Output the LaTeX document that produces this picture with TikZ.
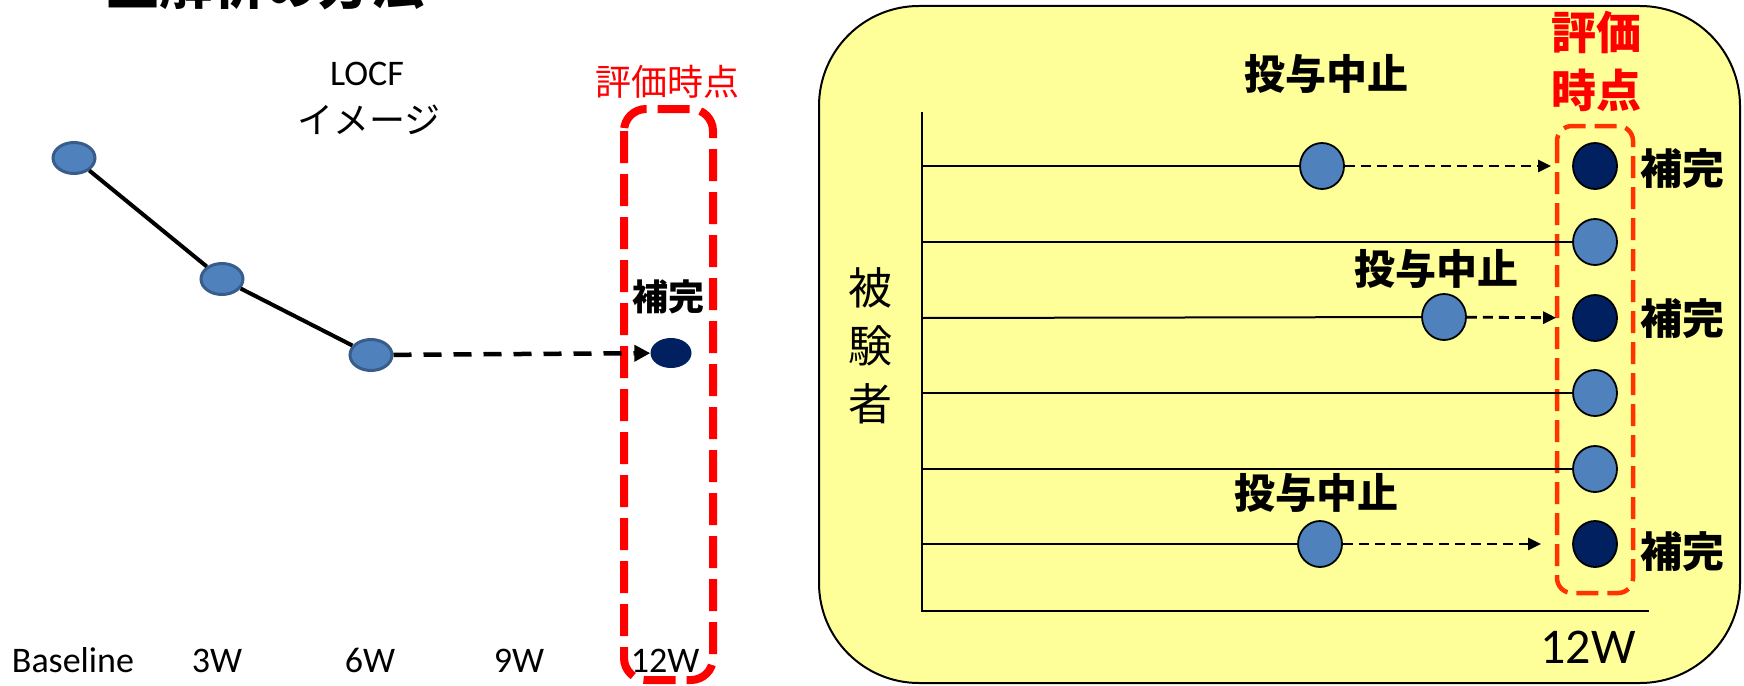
\documentclass[tikz,border=0pt]{standalone}
\usepackage{fontspec}
\setmainfont{Carlito}
\newfontfamily\jp{Noto Sans CJK JP}
\usetikzlibrary{shapes.geometric,arrows.meta}
\definecolor{cblue}{HTML}{4F81BD}
\definecolor{cbord}{HTML}{385D8A}
\definecolor{cnavy}{HTML}{002060}
\definecolor{cyel}{HTML}{FFFF99}
\definecolor{cred}{HTML}{FF0000}
\definecolor{corange}{HTML}{FF3300}
\tikzset{
  lcirc/.style={ellipse,inner sep=0pt,minimum width=42pt,minimum height=31pt,fill=cblue,draw=cbord,line width=3pt},
  ldark/.style={ellipse,inner sep=0pt,minimum width=41pt,minimum height=30pt,fill=cnavy},
  rcirc/.style={ellipse,inner sep=0pt,minimum width=44pt,minimum height=46pt,fill=cblue,draw=black,line width=1.8pt},
  rdark/.style={ellipse,inner sep=0pt,minimum width=44pt,minimum height=46pt,fill=cnavy,draw=black,line width=1.8pt},
  lat/.style={font=\fontsize{36}{40}\selectfont,inner sep=0pt},
  jpl/.style={font=\jp\fontsize{36}{40}\selectfont,inner sep=0pt},
  jpbold/.style={font=\jp\bfseries\fontsize{42}{46}\selectfont,inner sep=0pt},
  rline/.style={line width=2pt},
  rdash/.style={line width=2.8pt,dash pattern=on 10pt off 6pt,-{Triangle[length=13pt,width=12pt]}},
}
\begin{document}
\begin{tikzpicture}[x=1pt,y=-1pt]
\useasboundingbox (0,0) rectangle (1744,685);
% title (cut off at top, as in the reference)
\node[font=\jp\bfseries\fontsize{53}{56}\selectfont,inner sep=0pt,anchor=base] (title) at (265,5) {主解析の方法};
% ---------- left panel ----------
\node[lat,anchor=base] (locf) at (367,85) {LOCF};
\node[jpl] (image) at (369,120) {イメージ};
\node[jpl,text=cred] (evalL) at (667,82) {評価時点};
\draw[cred,line width=8pt,dash pattern=on 32pt off 11pt,rounded corners=22pt] (624,109) rectangle (713,680);
\node[lcirc] (a) at (74,158) {};
\node[lcirc] (b) at (222,279) {};
\node[lcirc] (c) at (371,355) {};
\node[ldark] (d) at (671,353) {};
\draw[line width=4pt] (a) -- (b) -- (c);
\draw[line width=4.5pt,dash pattern=on 18pt off 12pt,-{Triangle[length=16pt,width=16pt]}] (c) -- (d);
\node[jpl,font=\jp\bfseries\fontsize{36}{40}\selectfont] (hokanL) at (668,297) {補完};
\node[lat,anchor=base] (t0) at (73,672) {Baseline};
\node[lat,anchor=base] (t3) at (217,672) {3W};
\node[lat,anchor=base] (t6) at (370,672) {6W};
\node[lat,anchor=base] (t9) at (519,672) {9W};
\node[lat,anchor=base] (t12) at (665,672) {12W};
% ---------- right panel ----------
\draw[fill=cyel,line width=2pt,rounded corners=100pt] (819,6) rectangle (1740,683);
\coordinate (ax0) at (922,112);
\coordinate (ax1) at (922,611);
\coordinate (ax2) at (1649,611);
\draw[line width=2.5pt] (ax0) -- (ax1) -- (ax2);
\draw[corange,line width=4.5pt,dash pattern=on 22pt off 9pt,rounded corners=15pt] (1557,126) rectangle (1633,593);
\node[font=\jp\bfseries\fontsize{45}{58}\selectfont,text=cred,align=center,inner sep=0pt] (evalR) at (1596,61) {評価\\時点};
\node[font=\jp\fontsize{44}{58}\selectfont,align=center,inner sep=0pt] (subj) at (870,346) {被\\験\\者};
\node[lat,font=\fontsize{50}{54}\selectfont,anchor=base] (w12) at (1588,663) {12W};
% row coordinates on the axis
\coordinate (y1) at (922,166);
\coordinate (y2) at (922,242);
\coordinate (y3) at (922,318);
\coordinate (y4) at (922,393);
\coordinate (y5) at (922,469);
\coordinate (y6) at (922,544);
% row 1
\node[rcirc] (r1a) at (1322,166) {};
\node[rdark] (r1b) at (1595,166) {};
\draw[rline] (y1) -- (r1a);
\draw[rdash,shorten >=21pt] (r1a) -- (r1b);
% row 2
\node[rcirc] (r2b) at (1595,242) {};
\draw[rline] (y2) -- (r2b);
% row 3
\node[rcirc] (r3a) at (1444,317) {};
\node[rdark] (r3b) at (1595,318) {};
\draw[rline] (y3) -- (r3a);
\draw[rdash,shorten >=16pt] (r3a) -- (r3b);
% row 4
\node[rcirc] (r4b) at (1595,393) {};
\draw[rline] (y4) -- (r4b);
% row 5
\node[rcirc] (r5b) at (1595,469) {};
\draw[rline] (y5) -- (r5b);
% row 6
\node[rcirc] (r6a) at (1320,544) {};
\node[rdark] (r6b) at (1595,544) {};
\draw[rline] (y6) -- (r6a);
\draw[rdash,shorten >=31pt] (r6a) -- (r6b);
% labels
\node[jpbold,font=\jp\bfseries\fontsize{41}{46}\selectfont] (stop1) at (1326,74) {投与中止};
\node[jpbold,font=\jp\bfseries\fontsize{41}{46}\selectfont] (stop3) at (1436,269) {投与中止};
\node[jpbold,font=\jp\bfseries\fontsize{41}{46}\selectfont] (stop6) at (1316,493) {投与中止};
\node[jpbold] (hk1) at (1682,169) {補完};
\node[jpbold] (hk3) at (1682,319) {補完};
\node[jpbold] (hk6) at (1682,552) {補完};
\end{tikzpicture}
\end{document}
